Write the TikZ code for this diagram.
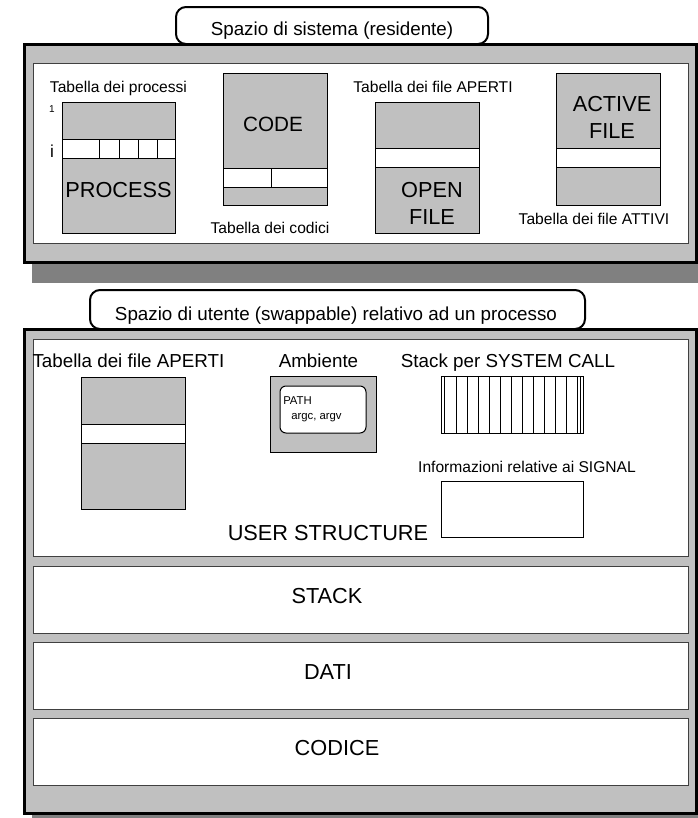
\documentclass[tikz,border=0pt]{standalone}
\usepackage{fontspec}
\setmainfont{Liberation Sans}
\definecolor{boxgray}{HTML}{C0C0C0}
\definecolor{shadowgray}{HTML}{808080}
\begin{document}
\begin{tikzpicture}[x=0.75pt,y=-0.75pt,
  outerbox/.style={draw=black,line width=2.25pt,fill=boxgray},
  shadowbox/.style={fill=shadowgray},
  panel/.style={draw=black!75,line width=0.75pt,fill=white},
  tabbox/.style={draw=black,line width=1.5pt,fill=white,rounded corners=7.5pt},
  tablebox/.style={draw=black,line width=0.75pt,fill=boxgray},
  rowbox/.style={draw=black,line width=0.75pt,fill=white},
  lbl/.style={inner sep=0pt,anchor=base},
  bigtxt/.style={lbl,font=\fontsize{16.3}{19}\selectfont},
  midtxt/.style={lbl,font=\fontsize{14.1}{17}\selectfont},
  smalltxt/.style={lbl,font=\fontsize{11.7}{14}\selectfont},
  tinytxt/.style={lbl,font=\fontsize{8.5}{10}\selectfont}]
\useasboundingbox (0,0) rectangle (697,818);

% ---------- system space ----------
\fill[shadowbox] (32,64) rectangle (705,283);
\draw[outerbox] (24,44) rectangle (696,262);
\draw[tabbox] (176,7) rectangle (488,44);
\node[midtxt] (systab) at (332,35) {Spazio di sistema (residente)};
\draw[panel] (33,63) rectangle (688,243);

% process table
\node[smalltxt] (tproc) at (118.5,92) {Tabella dei processi};
\node[lbl,font=\fontsize{7.5}{9}\selectfont] (one) at (52,112) {1};
\node[lbl,font=\fontsize{13}{15}\selectfont] (ilab) at (52,157) {i};
\draw[tablebox] (62,102) rectangle (175,233);
\draw[rowbox] (62,139) rectangle (175,158);
\foreach \xx in {99,119,138,157} \draw[line width=0.75pt] (\xx,139) -- (\xx,158);
\node[bigtxt] (proc) at (118.5,197) {PROCESS};

% code table
\draw[tablebox] (223,73) rectangle (327,205);
\draw[rowbox] (223,168) rectangle (327,187);
\draw[line width=0.75pt] (271,168) -- (271,187);
\node[lbl,font=\fontsize{15.5}{18}\selectfont] (code) at (273,131) {CODE};
\node[smalltxt] (tcod) at (270,233) {Tabella dei codici};

% open file table
\node[smalltxt] (topen) at (433,92) {Tabella dei file APERTI};
\draw[tablebox] (375,102) rectangle (479,233);
\draw[rowbox] (375,148) rectangle (479,167);
\node[bigtxt] (open1) at (432,197) {OPEN};
\node[bigtxt] (open2) at (432,224) {FILE};

% active file table
\draw[tablebox] (556,73) rectangle (660,205);
\draw[rowbox] (556,148) rectangle (660,167);
\node[bigtxt] (act1) at (612,111) {ACTIVE};
\node[bigtxt] (act2) at (612,138) {FILE};
\node[smalltxt] (tatt) at (594,224) {Tabella dei file ATTIVI};

% ---------- user space ----------
\fill[shadowbox] (32,349) rectangle (705,833);
\draw[outerbox] (24,329) rectangle (696,813);
\draw[tabbox] (90,290) rectangle (585,329);
\node[midtxt] (usrtab) at (336,320) {Spazio di utente (swappable) relativo ad un processo};

\draw[panel] (33,339) rectangle (688,556);
\draw[panel] (33,566) rectangle (688,633);
\draw[panel] (33,642) rectangle (688,709);
\draw[panel] (33,718) rectangle (688,785);

% open file table (user)
\node[midtxt] (uopen) at (128.5,367) {Tabella dei file APERTI};
\draw[tablebox] (81,377) rectangle (185,509);
\draw[rowbox] (81,424) rectangle (185,443);

% ambiente
\node[midtxt] (amb) at (318.5,367) {Ambiente};
\draw[tablebox] (270,376) rectangle (376,452);
\draw[draw=black,line width=0.75pt,fill=white,rounded corners=4.5pt] (280,386) rectangle (366,433);
\node[tinytxt,anchor=base west] (path) at (283,404) {PATH};
\node[tinytxt,anchor=base west] (argc) at (291,419) {argc, argv};

% stack per system call
\node[midtxt] (tstack) at (508,367) {Stack per SYSTEM CALL};
\draw[rowbox] (441,376) rectangle (583,433);
\foreach \xx in {444.3,456,467,478,489,500.3,511.3,522.3,533.3,544.3,555.7,566.7,577.3,580}
  \draw[line width=0.6pt] (\xx,376) -- (\xx,433);

% signal
\node[smalltxt] (tsig) at (527,472) {Informazioni relative ai SIGNAL};
\draw[rowbox] (441,481) rectangle (583,537);

\node[bigtxt] (ustruct) at (328,540) {USER STRUCTURE};

\node[bigtxt,anchor=center] (stack) at (327,596) {STACK};
\node[bigtxt,anchor=center] (dati) at (328,672.5) {DATI};
\node[bigtxt,anchor=center] (codice) at (337,748.5) {CODICE};
\end{tikzpicture}
\end{document}
